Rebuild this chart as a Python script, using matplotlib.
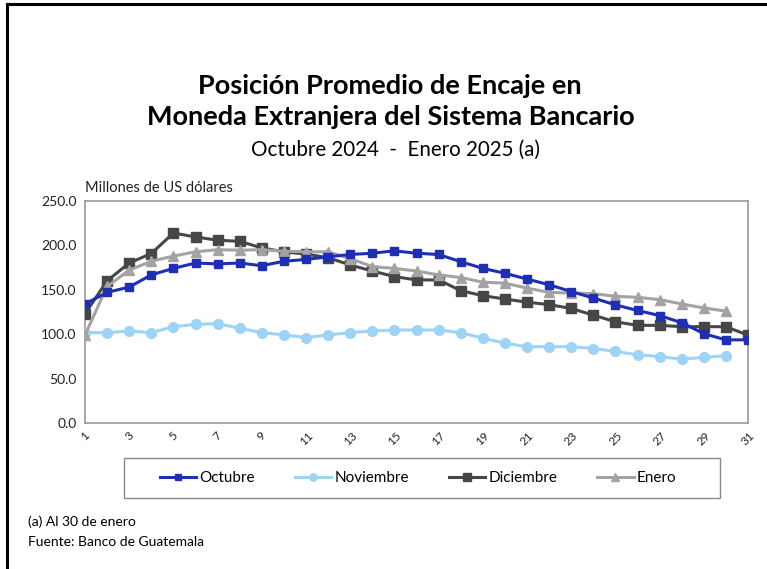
import matplotlib
matplotlib.use("Agg")
import matplotlib.pyplot as plt
from matplotlib.lines import Line2D
from matplotlib.patches import Rectangle

plt.rcParams['font.family'] = ['Lato', 'DejaVu Sans']

dias_oct = list(range(1, 32))
octubre = [134, 147, 153, 166.7, 174, 180, 179, 180, 177, 182, 184, 187, 189.6, 191, 193.7, 191,
           189.6, 181.5, 174, 168.5, 162, 155.6, 148, 140.7, 133, 126.7, 121, 113, 100.7, 93.7, 93.7]
dias_nov = list(range(1, 31))
noviembre = [101.8, 101.8, 103.7, 101.8, 108.5, 111, 112, 106.7, 101.8, 99.3, 96.3, 99.3, 101.8, 103.7, 104.8,
             104.8, 104.8, 101.8, 95.6, 90, 86, 86, 86, 84, 80.7, 77, 75, 72, 74, 76]
dias_dic = list(range(1, 32))
diciembre = [123, 160, 180, 190.7, 213.7, 209.3, 205.6, 204.4, 197, 192.6, 190, 186, 177.8, 171, 164.8, 161,
             161, 149, 143.3, 139.6, 136, 133.3, 129, 121.5, 114, 110, 110, 108.5, 108.5, 108.5, 99]
dias_ene = list(range(1, 31))
enero = [99.3, 153.7, 172, 182, 187.8, 192.6, 195, 194.4, 195, 193.3, 192.6, 192.6, 185, 176, 174, 171,
         166.7, 163.7, 158.5, 157.4, 151.8, 147, 146.3, 145.6, 142.6, 141.5, 138.9, 134, 129.6, 126]

xticks = list(range(1, 32, 2))
yticks = [0, 50, 100, 150, 200, 250]

c_oct = '#1F2FB5'
c_nov = '#9DD3F5'
c_dic = '#464646'
c_ene = '#A3A3A3'

fig = plt.figure(figsize=(7.67, 5.69), dpi=100)
W, H = 767, 569

def fx(x):
    return x / W

def fy(y):
    return 1 - y / H

# outer frame (top and left edges visible)
fig.add_artist(Line2D([fx(7), 1.0], [fy(4), fy(4)], color='black', lw=2.2, transform=fig.transFigure))
fig.add_artist(Line2D([fx(7), fx(7)], [fy(4), 0.0], color='black', lw=2.2, transform=fig.transFigure))

ax = fig.add_axes([fx(85), fy(423.3), fx(748) - fx(85), fy(200.7) - fy(423.3)])

ax.plot(dias_oct, octubre, color=c_oct, lw=2.2, marker='s', ms=6, zorder=4, label='Octubre')
ax.plot(dias_nov, noviembre, color=c_nov, lw=2.2, marker='o', ms=7, zorder=3, label='Noviembre')
ax.plot(dias_dic, diciembre, color=c_dic, lw=2.2, marker='s', ms=7, zorder=3, label='Diciembre')
ax.plot(dias_ene, enero, color=c_ene, lw=2.2, marker='^', ms=7.5, zorder=3, label='Enero')

ax.set_xlim(1, 31)
ax.set_ylim(0, 250)
ax.set_xticks(xticks)
ax.set_xticklabels([str(t) for t in xticks], rotation=45, fontsize=8.5, color='#222222')
ax.set_yticks(yticks)
ax.set_yticklabels([f'{t:.1f}' for t in yticks], fontsize=10, color='#222222')
ax.tick_params(axis='both', length=0, pad=6)
ax.tick_params(axis='x', pad=5)
for s in ax.spines.values():
    s.set_color('#999999')
    s.set_linewidth(1.2)

fig.text(fx(390), fy(86), 'Posición Promedio de Encaje en', ha='center', va='center',
         fontsize=19.5, fontweight='bold', color='black')
fig.text(fx(391), fy(117), 'Moneda Extranjera del Sistema Bancario', ha='center', va='center',
         fontsize=19.5, fontweight='bold', color='black')
fig.text(fx(395), fy(150), 'Octubre 2024  -  Enero 2025 (a)', ha='center', va='center',
         fontsize=14.8, color='black')
fig.text(fx(85), fy(188), 'Millones de US dólares', ha='left', va='center', fontsize=10.5, color='#222222')

# legend frame
fig.add_artist(Rectangle((fx(124), fy(498)), fx(720) - fx(124), fy(458) - fy(498),
                         transform=fig.transFigure, fill=False, edgecolor='#888888', lw=1.0))
handles, labels = ax.get_legend_handles_labels()
leg = fig.legend(handles, labels, loc='center', bbox_to_anchor=(fx(418), fy(478)), ncol=4,
                 frameon=False, fontsize=11,
                 handlelength=2.4, columnspacing=2.6, handletextpad=0.2, markerscale=0.75)

fig.text(fx(28), fy(522), '(a) Al 30 de enero', ha='left', va='center', fontsize=10, color='black')
fig.text(fx(28), fy(542), 'Fuente: Banco de Guatemala', ha='left', va='center', fontsize=10, color='black')

fig.savefig('out.png', dpi=100)
